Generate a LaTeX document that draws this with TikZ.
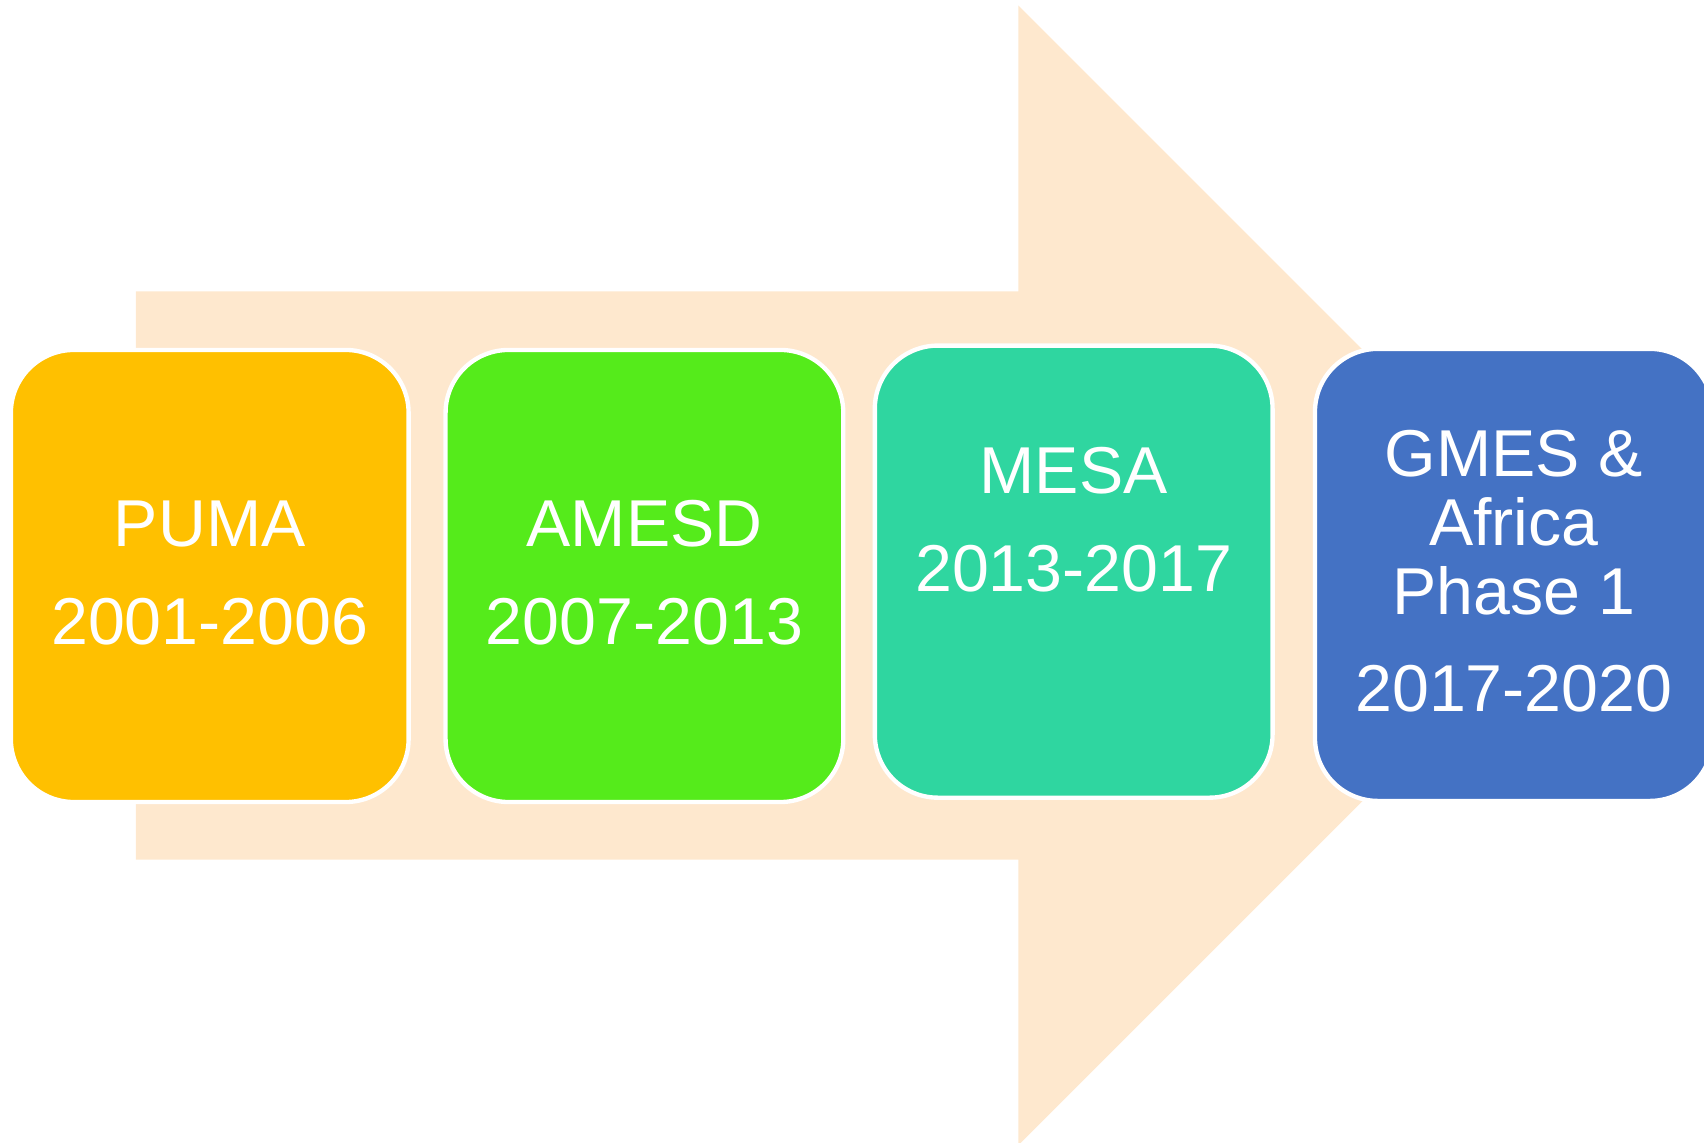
\documentclass[tikz,border=0pt]{standalone}
\usepackage{fontspec}
\setmainfont{Liberation Sans}
\usetikzlibrary{positioning}
\definecolor{arrowpeach}{HTML}{FEE8CE}
\definecolor{pumaorange}{HTML}{FFC000}
\definecolor{amesdgreen}{HTML}{55EB1B}
\definecolor{mesateal}{HTML}{2FD6A0}
\definecolor{gmesblue}{HTML}{4472C4}

\begin{document}
\begin{tikzpicture}[x=0.5pt, y=-0.5pt,
    stage/.style={rectangle, rounded corners=29pt, draw=white, line width=2pt,
            minimum width=183pt, minimum height=208pt, inner sep=0pt},
    years/.style={text=white, align=center, inner sep=0pt,
            font=\fontsize{30.5}{45}\selectfont}]
        \useasboundingbox (0,0) rectangle (1568,1051);

          % big arrow behind
          \fill[arrowpeach] (125,268) -- (937,268) -- (937,5) -- (1461.5,529.5)
              -- (937,1054) -- (937,791) -- (125,791) -- cycle;

          \node[stage,fill=pumaorange] (puma) at (193,530) {};
          \node[stage,fill=amesdgreen] (amesd) at (593,530) {};
          \node[stage,fill=mesateal] (mesa) at (988,526) {};
          \node[stage,fill=gmesblue] (gmes) at (1393,529) {};

          \node[years] (pumatext) at (193,527) {PUMA\\2001-2006};
          \node[years] (amesdtext) at (593,527) {AMESD\\2007-2013};
          \node[years] (mesatext) at (988,478.5) {MESA\\2013-2017};
          \node[years,font=\fontsize{30.5}{31.75}\selectfont] (gmestext) at (1393,525.5)
              {GMES \&\\Africa\\Phase 1\\[12.75pt]2017-2020};
        \end{tikzpicture}
\end{document}
